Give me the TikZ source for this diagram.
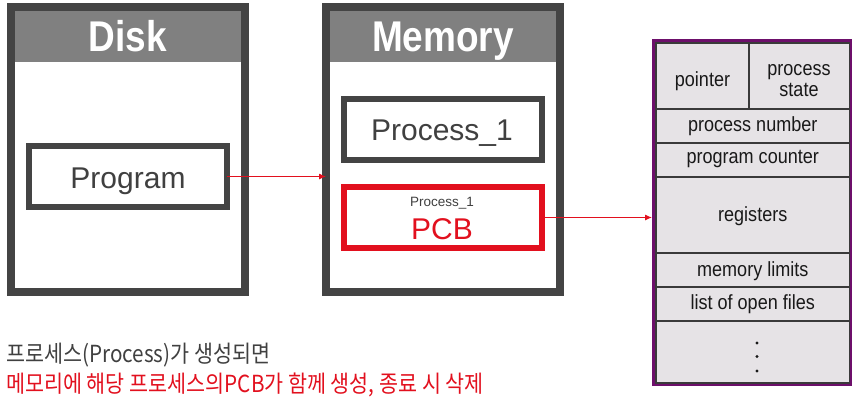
\documentclass[tikz,border=0pt]{standalone}
\usepackage{fontspec}
\setmainfont{Liberation Sans}
\newfontfamily\hdrfont{Liberation Sans Bold}[FakeStretch=0.86]
\newfontfamily\pcbfont{Liberation Sans}[FakeStretch=0.88]
\newfontfamily\krfont{Noto Sans CJK KR}[FakeStretch=0.88]
\usetikzlibrary{arrows.meta}
\definecolor{boxgray}{HTML}{444444}
\definecolor{hdrgray}{HTML}{808080}
\definecolor{txtgray}{HTML}{404040}
\definecolor{pcbred}{HTML}{E2101E}
\definecolor{pcbpurple}{HTML}{6D0F6B}
\definecolor{structfill}{HTML}{E6E3E6}
\definecolor{structline}{HTML}{3A3A3A}
\begin{document}
\begin{tikzpicture}[x=1pt,y=-1pt,
  container/.style={draw=boxgray, line width=8pt, fill=white, minimum width=234pt, minimum height=285pt, inner sep=0pt, outer sep=0pt},
  inbox/.style={draw=boxgray, line width=6pt, fill=white, minimum width=198pt, minimum height=61pt, inner sep=0pt, outer sep=0pt},
  hdrtext/.style={text=white, inner sep=0pt, anchor=base, font=\hdrfont\fontsize{43pt}{45pt}\selectfont},
  bigtext/.style={text=txtgray, inner sep=0pt, anchor=base, font=\fontsize{30pt}{32pt}\selectfont},
  fieldtext/.style={text=black!90, inner sep=0pt, anchor=base, font=\pcbfont\fontsize{20.5pt}{22pt}\selectfont},
  redarrow/.style={draw=pcbred, line width=1pt, -{Latex[length=7pt,width=6pt]}},
  krtext/.style={inner sep=0pt, anchor=base west, font=\krfont\fontsize{23.5pt}{25pt}\selectfont}
]
\useasboundingbox (0,0) rectangle (856,399);

% Disk
\node[container] (disk) at (128,149.5) {};
\fill[hdrgray] (15,11) rectangle (241,62);
\node[hdrtext] (disktitle) at (128,51) {Disk};
\node[inbox] (program) at (128,176.5) {};
\node[bigtext] (programtext) at (128,188) {Program};

% Memory
\node[container] (memory) at (443,149.5) {};
\fill[hdrgray] (330,11) rectangle (556,62);
\node[hdrtext] (memtitle) at (443,51) {Memory};
\node[inbox] (proc) at (443,129.5) {};
\node[bigtext] (proctext) at (442,140) {Process\_1};
\node[inbox, draw=pcbred] (pcb) at (443,217.5) {};
\node[text=txtgray, inner sep=0pt, anchor=base, font=\fontsize{13.5pt}{15pt}\selectfont] (pcbsmall) at (442,206) {Process\_1};
\node[bigtext, text=pcbred] (pcbtext) at (442,239) {PCB};

% PCB structure
\node[fill=pcbpurple, minimum width=200pt, minimum height=347pt, inner sep=0pt, outer sep=0pt] (pcbstruct) at (752,212.5) {};
\node[fill=structfill, draw=structline, line width=1.2pt, minimum width=193.5pt, minimum height=340pt, inner sep=0pt, outer sep=0pt] (pcbinner) at (752.75,213) {};
\foreach \yy in {109,143,177,253,287,321}
  \draw[structline, line width=1.2pt] (656,\yy) -- (849.5,\yy);
\draw[structline, line width=1.2pt] (749,43) -- (749,109);
\node[fieldtext] (fpointer) at (702.5,86.5) {pointer};
\node[fieldtext] (fstate1) at (799,75) {process};
\node[fieldtext] (fstate2) at (799,96.5) {state};
\node[fieldtext] (fnumber) at (752.75,131.5) {process number};
\node[fieldtext] (fcounter) at (752.75,163) {program counter};
\node[fieldtext] (fregs) at (752.75,221.5) {registers};
\node[fieldtext] (flimits) at (752.75,276.5) {memory limits};
\node[fieldtext] (ffiles) at (752.75,309) {list of open files};
\fill[black!90] (757,343) circle (1.6pt) (757,356.5) circle (1.6pt) (757,371) circle (1.6pt);

% arrows
\draw[redarrow] (program.east) -- (program.east -| memory.west);
\draw[redarrow] (pcb.east) -- (pcb.east -| pcbstruct.west);

% bottom text
\node[krtext, text=txtgray] (line1) at (6,362) {프로세스(Process)가 생성되면};
\node[krtext, text=pcbred] (line2) at (6,392) {메모리에 해당 프로세스의PCB가 함께 생성, 종료 시 삭제};
\end{tikzpicture}
\end{document}
